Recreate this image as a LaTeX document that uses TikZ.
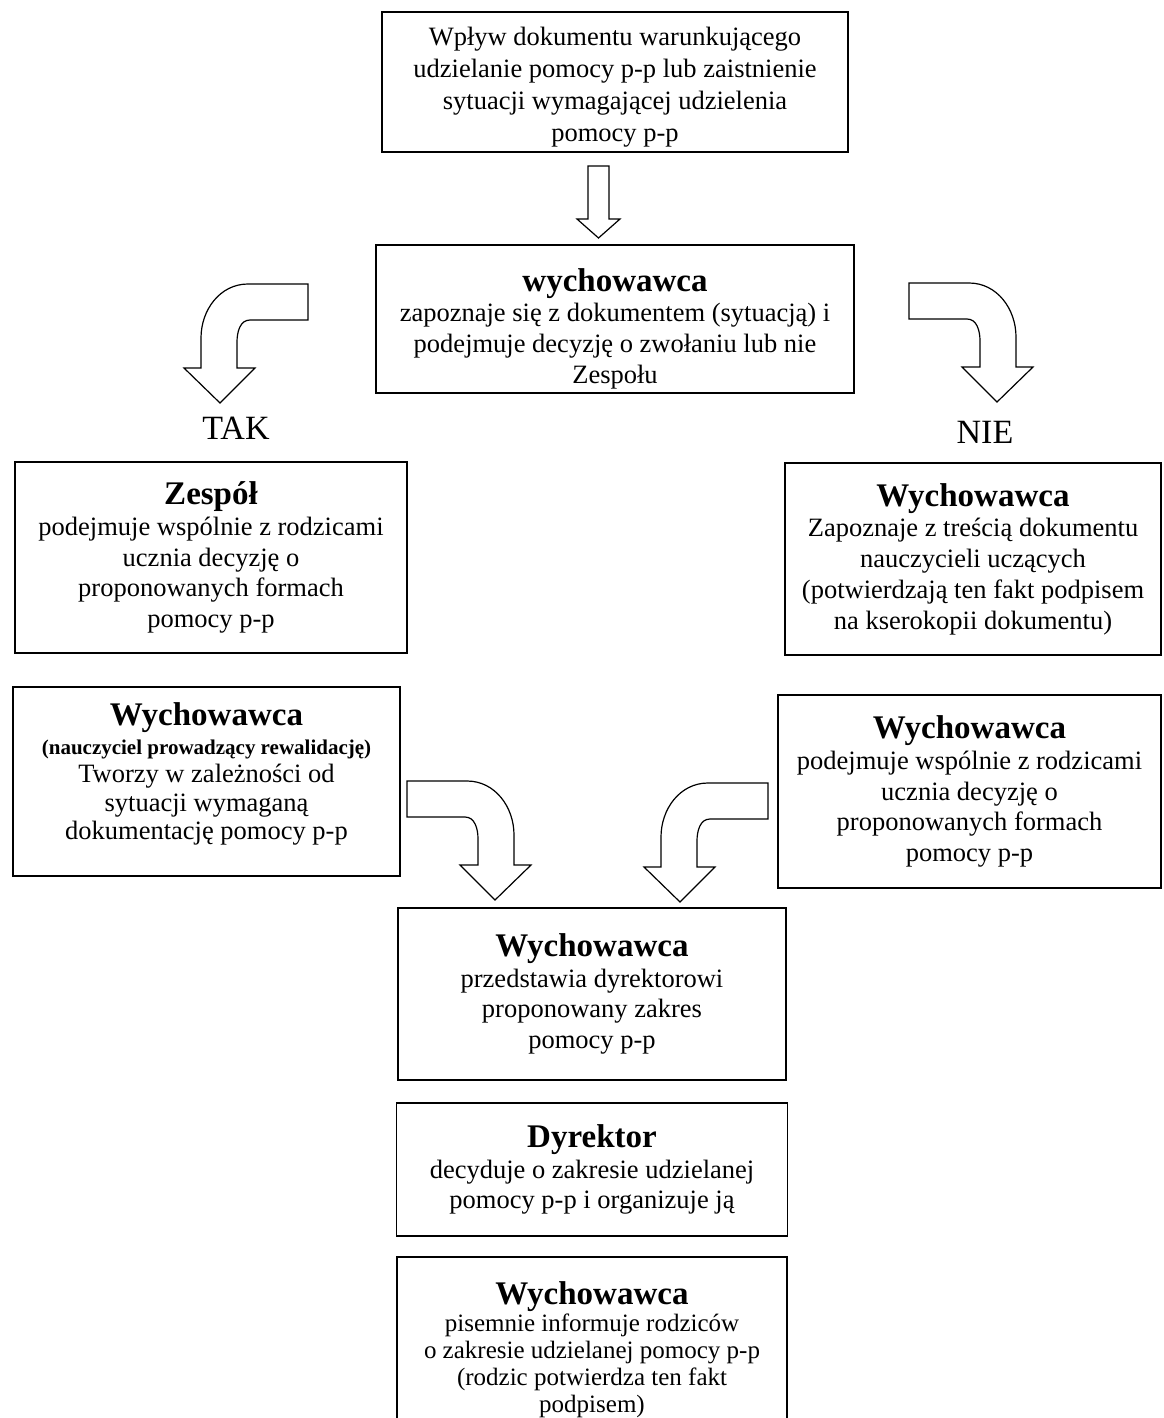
\documentclass[tikz,border=0pt]{standalone}
\usepackage{fontspec}
\setmainfont{Liberation Serif}
\usetikzlibrary{positioning}

\newcommand{\ttl}[1]{{\fontsize{33}{38}\selectfont\bfseries #1}}
\newcommand{\lift}[1]{\rule[-#1]{0pt}{#1}}
\newcommand{\drop}[1]{\rule{0pt}{#1}}

% bent block arrow, drawn from its top left corner
\tikzset{bendarrow/.pic={
  \draw[blk] (0,0) -- (60,0) to[out=0,in=90] (107,54) -- (107,84) -- (124,84)
    -- (88,119) -- (53,84) -- (71,84) -- (71,58) to[out=90,in=0] (58,36)
    -- (0,36) -- cycle;
}}

\begin{document}
\begin{tikzpicture}[x=1pt,y=-1pt,on grid,
  box/.style={draw,line width=1.2pt,align=center,inner sep=0pt,
    font=\fontsize{26.5}{30.7}\selectfont},
  blk/.style={draw,line width=1.2pt,fill=white},
  lbl/.style={font=\fontsize{34}{38}\selectfont}]
\useasboundingbox (0,0) rectangle (1163,1418);

\node[box,minimum width=466pt,minimum height=140pt,font=\fontsize{26.5}{32}\selectfont] (doc) at (615,82)
  {\drop{28pt}Wpływ dokumentu warunkującego\\udzielanie pomocy p-p lub zaistnienie\\sytuacji wymagającej udzielenia\\pomocy p-p};
\node[box,minimum width=478pt,minimum height=148pt] (wych) [below=237pt of doc]
  {\ttl{\drop{42pt}wychowawca}\\zapoznaje się z dokumentem (sytuacją) i\\podejmuje decyzję o zwołaniu lub nie\\Zespołu};
\node[box,minimum width=392pt,minimum height=191pt] (zespol) [below left=238.5pt and 404pt of wych]
  {\ttl{Zespół}\\podejmuje wspólnie z rodzicami\\ucznia decyzję o\\proponowanych formach\\pomocy p-p};
\node[box,minimum width=376pt,minimum height=192pt] (nie) [below right=240pt and 358pt of wych]
  {\ttl{Wychowawca}\\Zapoznaje z treścią dokumentu\\nauczycieli uczących\\(potwierdzają ten fakt podpisem\\na kserokopii dokumentu)};
\node[box,minimum width=387pt,minimum height=189pt,font=\fontsize{26.5}{28.5}\selectfont] (wychL) [below left=224pt and 4.5pt of zespol]
  {\ttl{Wychowawca}\\{\fontsize{21}{24}\selectfont\bfseries (nauczyciel prowadzący rewalidację)}\\Tworzy w zależności od\\sytuacji wymaganą\\dokumentację pomocy p-p\lift{20pt}};
\node[box,minimum width=383pt,minimum height=193pt] (wychR) [below left=232.5pt and 3.5pt of nie]
  {\ttl{Wychowawca}\\podejmuje wspólnie z rodzicami\\ucznia decyzję o\\proponowanych formach\\pomocy p-p};
\node[box,minimum width=388pt,minimum height=172pt] (wychC) [below left=675pt and 23pt of wych]
  {\ttl{Wychowawca}\\przedstawia dyrektorowi\\proponowany zakres\\pomocy p-p};
\node[box,minimum width=391pt,minimum height=133pt] (dyr) [below=175.5pt of wychC]
  {\ttl{Dyrektor}\\decyduje o zakresie udzielanej\\pomocy p-p i organizuje ją};
\node[box,minimum width=390pt,minimum height=186pt,font=\fontsize{25}{27}\selectfont] (inf) [below=180.5pt of dyr]
  {\ttl{Wychowawca}\\pisemnie informuje rodziców\\o zakresie udzielanej\ pomocy p-p\\(rodzic potwierdza ten fakt\\podpisem)};

\node[lbl] (tak) [above right=129.5pt and 25pt of zespol] {TAK};
\node[lbl] (nn) [above right=127pt and 12pt of nie] {NIE};

% block arrows
\draw[blk] (588,166) -- (609,166) -- (609,219) -- (620,219) -- (598.5,238)
  -- (577,219) -- (588,219) -- cycle;
\pic[xscale=-1] at (308,284) {bendarrow};
\pic at (909,283) {bendarrow};
\pic at (407,781) {bendarrow};
\pic[xscale=-1] at (768,783) {bendarrow};
\end{tikzpicture}
\end{document}
